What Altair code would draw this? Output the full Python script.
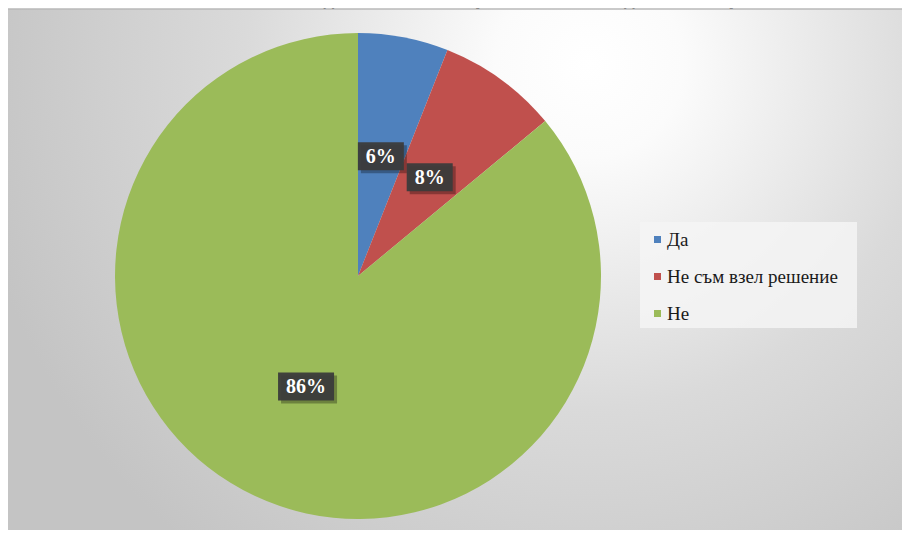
import altair as alt
import pandas as pd

# ---- data ----
categories = ["Да", "Не съм взел решение", "Не"]
values = [6, 8, 86]
labels = ["6%", "8%", "86%"]
slice_order = [0, 1, 2]
colors = ["#4F81BD", "#C0504D", "#9BBB59"]
title_text = "началото годината на навършване на 6-годишна възраст?"

# ---- layout ----
W, H = 894, 522
CX, CY = 350, 268
R = 243
LR = 122

df = pd.DataFrame({"category": categories, "value": values, "label": labels, "order": slice_order})

xs = alt.Scale(domain=[-CX, W - CX], nice=False, zero=False)
ys = alt.Scale(domain=[CY - H, CY], nice=False, zero=False)

serif = "'Liberation Serif', 'Times New Roman', Times, serif"

title = alt.Chart(pd.DataFrame({"t": [title_text]})).mark_text(
    font=serif, fontSize=22, fontWeight="bold", color="#000", baseline="alphabetic", align="center"
).encode(x=alt.value(487), y=alt.value(-1), text="t:N")

bg = alt.Chart(pd.DataFrame({"a": [0]})).mark_rect(
    fill=alt.Gradient(
        gradient="radial",
        stops=[
            alt.GradientStop(color="#ffffff", offset=0),
            alt.GradientStop(color="#fbfbfb", offset=0.15),
            alt.GradientStop(color="#dadada", offset=0.55),
            alt.GradientStop(color="#c4c4c4", offset=1),
        ],
        x1=0.65, y1=0.27, r1=0, x2=0.65, y2=0.27, r2=0.7,
    )
).encode(x=alt.value(0), x2=alt.value(W), y=alt.value(1), y2=alt.value(H))

topline = alt.Chart(pd.DataFrame({"a": [0]})).mark_rule(color="#b8b8b8", strokeWidth=1.5).encode(
    x=alt.value(0), x2=alt.value(W), y=alt.value(1)
)

legend_box = alt.Chart(pd.DataFrame({"a": [0]})).mark_rect(fill="#f4f4f4", opacity=0.85).encode(
    x=alt.value(632), x2=alt.value(849), y=alt.value(214), y2=alt.value(320)
)

pie = alt.Chart(df).mark_arc(radius=R).encode(
    theta=alt.Theta("value:Q", stack=True),
    order=alt.Order("order:Q"),
    color=alt.Color(
        "category:N",
        sort=categories,
        scale=alt.Scale(domain=categories, range=colors),
        legend=alt.Legend(
            orient="none", legendX=618, legendY=218, title=None,
            padding=4,
            labelFont=serif, labelFontSize=19, labelColor="#1a1a1a", labelLimit=400,
            symbolType="square", symbolSize=49, symbolStrokeWidth=0,
            rowPadding=17, labelOffset=0, symbolOffset=18,
        ),
    ),
    x=alt.XDatum(0, type="quantitative", scale=xs, axis=None),
    y=alt.YDatum(0, type="quantitative", scale=ys, axis=None),
)

base = alt.Chart(df).transform_joinaggregate(
    total="sum(value)"
).transform_window(
    cum="sum(value)", sort=[alt.SortField("order")], frame=[None, 0]
).transform_calculate(
    mid="(datum.cum - datum.value/2) / datum.total * 2 * PI",
).transform_calculate(
    lx=f"{LR} * sin(datum.mid)",
    ly=f"{LR} * cos(datum.mid)",
    bw="length(datum.label) * 10 + 26",
).transform_calculate(
    bx1="datum.lx - datum.bw/2", bx2="datum.lx + datum.bw/2",
    by1="datum.ly - 14", by2="datum.ly + 14",
    sx1="datum.lx - datum.bw/2 + 3", sx2="datum.lx + datum.bw/2 + 3",
    sy1="datum.ly - 17", sy2="datum.ly + 11",
)

shadow = base.mark_rect(color="#000000", opacity=0.3).encode(
    x=alt.X("sx1:Q", scale=xs, axis=None), x2="sx2:Q",
    y=alt.Y("sy1:Q", scale=ys, axis=None), y2="sy2:Q",
)
box = base.mark_rect(color="#3b3b3b", opacity=0.95).encode(
    x=alt.X("bx1:Q", scale=xs, axis=None), x2="bx2:Q",
    y=alt.Y("by1:Q", scale=ys, axis=None), y2="by2:Q",
)
txt = base.mark_text(font=serif, fontSize=20, fontWeight="bold", color="#ffffff", baseline="middle", dy=1).encode(
    x=alt.X("lx:Q", scale=xs, axis=None),
    y=alt.Y("ly:Q", scale=ys, axis=None),
    text="label:N",
)

chart = alt.layer(title, bg, topline, legend_box, pie, shadow, box, txt).properties(
    width=W, height=H, padding=0, autosize=alt.AutoSizeParams(type="none"), background="#ffffff"
).configure_view(stroke=None)

chart.save("out.html", embed_options={"renderer": "svg", "actions": False})
